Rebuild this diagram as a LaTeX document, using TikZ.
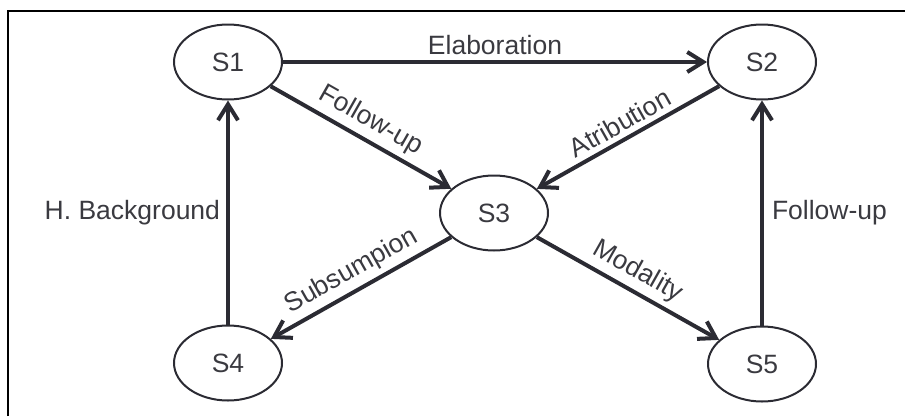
\documentclass[tikz,border=0pt]{standalone}
\usepackage{fontspec}
\setmainfont{Liberation Sans}
\usetikzlibrary{positioning}
\usetikzlibrary{arrows.meta}
\usetikzlibrary{shapes}
\definecolor{ink}{HTML}{2B2B33}
\definecolor{txt}{HTML}{3A3A40}
\tikzset{
	-{Straight Barb[length=16pt,width=20pt]},
	auto,
	every node/.style={font=\fontsize{26.5}{30}\selectfont, text=txt},
	state/.style ={ellipse, draw=ink, line width=2pt, minimum width=108pt, minimum height=75pt, inner sep=0pt},
	rel/.style={draw=ink, line width=4pt},
	el/.style = {inner sep=5pt, sloped}
}

\begin{document}
\begin{tikzpicture}[x=1pt, y=-1pt]
	\useasboundingbox (0,0) rectangle (905,416);
	% frame
	\draw[-, line width=1.5pt, black] (8,416) -- (8,11) -- (905,11);
	
	\node[state] (s1) at (228, 62) {S1};
	\node[state] (s2) at (762, 62) {S2};
	\node[state] (s3) at (494, 213) {S3};
	\node[state] (s4) at (228, 363) {S4};
	\node[state] (s5) at (762, 364) {S5};
	
	\path[rel] (s1) edge node[above, el] {Elaboration} (s2);
	\path[rel] (s1) edge node[above, el] {Follow-up} (s3);
	\path[rel] (s2) edge node[above, el] {Atribution} (s3);
	\path[rel] (s3) edge node[above, el] {Subsumpion} (s4);
	\path[rel] (s3) edge node[above, el] {Modality} (s5);
	\path[rel] (s4) edge node[left, inner sep=6pt] {H. Background} (s1);
	\path[rel] (s5) edge node[right, inner sep=8pt] {Follow-up} (s2);
	
\end{tikzpicture}
\end{document}
